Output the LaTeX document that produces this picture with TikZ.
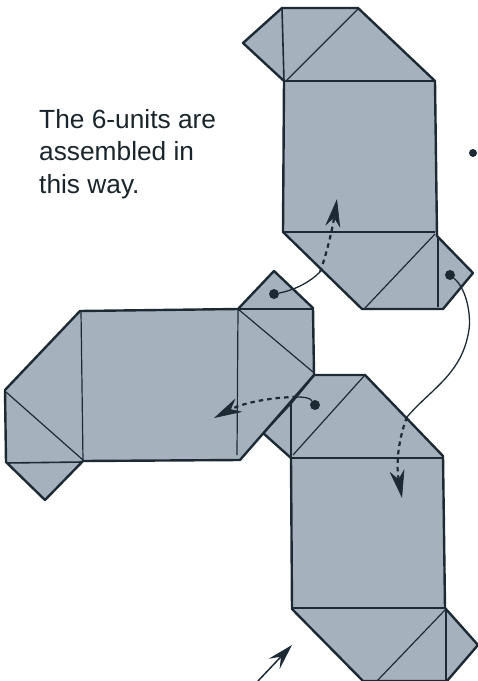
\documentclass[tikz,border=0pt]{standalone}
\usepackage{fontspec}
\setmainfont{Liberation Sans}
\usetikzlibrary{arrows.meta}
\definecolor{paper}{HTML}{A5B2BE}
\definecolor{ink}{HTML}{1E2A33}
\tikzset{
  x=1pt,y=-1pt,
  unit/.style={fill=paper,draw=ink,line width=2.4pt,line join=round},
  fold/.style={draw=ink,line width=1.6pt},
  thinfold/.style={draw=ink,line width=1.2pt},
  dotnode/.style={circle,fill=ink,inner sep=0pt,minimum size=10pt},
  solidlink/.style={draw=ink,line width=1.3pt},
  dashlink/.style={draw=ink,line width=2.2pt,dash pattern=on 4.5pt off 4pt,
     -{Stealth[length=28pt,width=15pt,inset=9pt,line width=.6pt]}},
  plainarrow/.style={draw=ink,line width=1.5pt,
     -{Stealth[length=26pt,width=15pt,inset=10pt]}},
  caption/.style={anchor=north west,align=left,inner sep=0pt,font=\fontsize{26.3}{32.5}\selectfont,text=ink!85!black}
}
\begin{document}
\begin{tikzpicture}
\useasboundingbox (0,0) rectangle (478,681);
% top unit
\path[unit] (282,8) -- (358,8) -- (435,81) -- (437,236) -- (473,273) -- (443,309) -- (362,309) -- (283,232) -- (284,81) -- (243,43) -- cycle;
\draw[fold] (282,8) -- (284,81) (284,81) -- (435,81) (284,232) -- (435,232) (438,236) -- (438,307);
\draw[thinfold] (286,81) -- (358,9) (435,234) -- (365,308);
% bottom unit
\path[unit] (314,375) -- (365,375) -- (443,456) -- (445,608) -- (478,645) -- (447,681) -- (363,681) -- (292,609) -- (291,458) -- (263,433) -- (291,403) -- cycle;
\draw[fold] (291,403) -- (291,458) (291,458) -- (443,458) (292,608) -- (445,608) (446,610) -- (446,681);
\draw[thinfold] (293,455) -- (365,375) (445,610) -- (377,681);
% left unit
\path[unit] (80,311) -- (238,309) -- (274,271) -- (313,308) -- (314,375) -- (240,460) -- (83,461) -- (45,500) -- (6,462) -- (5,390) -- cycle;
\draw[fold] (238,309) -- (313,309) (6,463) -- (83,462);
\draw[thinfold] (81,311) -- (83,461) (238,309) -- (237,455) (238,309) -- (313,372) (6,392) -- (83,460);
% text and stray dot
\node[caption] (note) at (39,109) {The 6-units are\\assembled in\\this way.};
\node[dotnode,minimum size=8pt] (stray) at (473,153) {};
% connectors
\node[dotnode] (d1) at (274,294) {};
\node[dotnode] (d2) at (450,275) {};
\node[dotnode] (d3) at (315,405) {};
\coordinate (e1) at (320,272);
\coordinate (t1) at (337,199);
\coordinate (e2) at (407,417);
\coordinate (t2) at (402,498);
\coordinate (e3) at (297,397);
\coordinate (t3) at (214,418);
\coordinate (a0) at (258,681);
\coordinate (a1) at (292,645);
\draw[solidlink] (d1) .. controls (295,290) and (310,282) .. (e1);
\draw[dashlink] (e1) .. controls (328,250) and (333,225) .. (t1);
\draw[solidlink] (d2) .. controls (468,290) and (472,320) .. (468,335) .. controls (460,375) and (430,390) .. (e2);
\draw[dashlink] (e2) .. controls (398,440) and (396,465) .. (t2);
\draw[solidlink] (d3) .. controls (310,398) and (305,397) .. (e3);
\draw[dashlink] (e3) .. controls (275,397) and (245,402) .. (t3);
\draw[plainarrow] (a0) -- (a1);
\end{tikzpicture}
\end{document}
